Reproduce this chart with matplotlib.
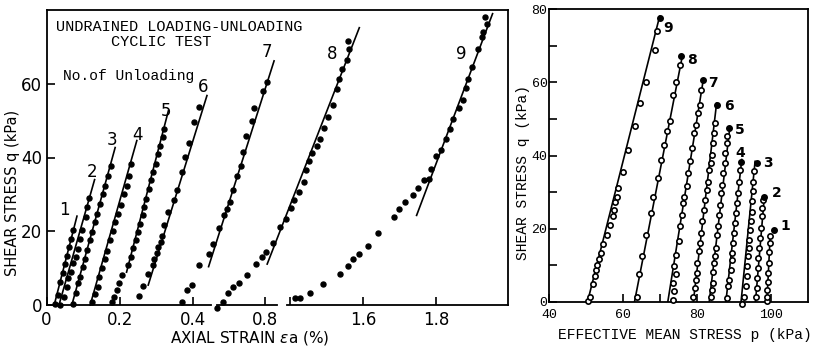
import matplotlib
matplotlib.use('Agg')
import matplotlib.pyplot as plt

# ---------------- data ----------------
# left panel: axial strain (%) vs shear stress q (kPa), one pair per unloading
strain_1 = [0.023, 0.031, 0.037, 0.044, 0.050, 0.055, 0.060, 0.066, 0.071]
stress_1 = [0.4, 2.8, 6.2, 8.6, 11.0, 13.4, 15.8, 18.0, 20.3]
strain_2 = [0.037, 0.048, 0.055, 0.059, 0.066, 0.073, 0.080, 0.085, 0.091, 0.098, 0.108, 0.111, 0.117]
stress_2 = [0.0, 2.2, 4.8, 7.2, 9.0, 11.3, 13.1, 15.3, 18.0, 20.3, 23.9, 26.6, 29.0]
strain_3 = [0.073, 0.080, 0.085, 0.091, 0.099, 0.105, 0.111, 0.119, 0.123, 0.132, 0.138, 0.146,
            0.153, 0.159, 0.168, 0.175]
stress_3 = [0.3, 3.2, 5.9, 7.6, 10.4, 12.6, 14.9, 17.6, 19.8, 22.5, 24.8, 27.5, 30.2, 32.4, 35.1, 37.8]
strain_4 = [0.123, 0.132, 0.139, 0.143, 0.150, 0.159, 0.166, 0.173, 0.180, 0.187, 0.196, 0.203,
            0.211, 0.219, 0.226, 0.229]
stress_4 = [0.9, 3.0, 4.9, 7.6, 9.9, 12.6, 14.7, 17.6, 20.1, 22.5, 24.8, 27.0, 30.2, 32.4, 34.9, 38.3]
strain_5 = [0.178, 0.184, 0.192, 0.198, 0.205, 0.222, 0.229, 0.236, 0.243, 0.249, 0.255, 0.262,
            0.265, 0.271, 0.278, 0.284, 0.291, 0.297, 0.304, 0.310, 0.316, 0.321]
stress_5 = [0.9, 2.2, 4.1, 5.9, 8.1, 10.8, 13.1, 15.4, 17.6, 19.8, 22.1, 24.3, 26.6, 28.8, 31.5,
            33.8, 36.0, 38.3, 41.0, 43.2, 45.5, 47.8]
strain_6 = [0.253, 0.262, 0.277, 0.289, 0.293, 0.300, 0.305, 0.311, 0.314, 0.320, 0.332, 0.346,
            0.355, 0.368, 0.376, 0.389, 0.402, 0.416]
stress_6 = [2.4, 5.1, 8.4, 10.8, 12.6, 14.0, 15.8, 17.1, 18.6, 21.6, 25.2, 28.4, 31.1, 36.0, 40.1,
            43.9, 49.5, 53.6]
strain_7 = [0.573, 0.587, 0.600, 0.621, 0.646, 0.659, 0.675, 0.688, 0.696, 0.705, 0.714, 0.723,
            0.735, 0.741, 0.748, 0.764, 0.770, 0.794, 0.806]
stress_7 = [0.9, 4.1, 5.4, 10.8, 13.8, 16.5, 21.0, 24.3, 25.9, 27.9, 31.1, 35.1, 37.8, 41.4, 45.9,
            50.0, 53.4, 57.9, 60.4]
strain_8 = [1.201, 1.219, 1.233, 1.247, 1.262, 1.283, 1.308, 1.326, 1.337, 1.355, 1.373, 1.390,
            1.403, 1.412, 1.426, 1.439, 1.446, 1.452, 1.461, 1.474, 1.483, 1.495, 1.505, 1.517,
            1.530, 1.535, 1.542, 1.556, 1.563, 1.558]
stress_8 = [-0.8, 0.8, 3.2, 4.9, 5.9, 8.1, 11.0, 12.9, 14.4, 16.8, 21.1, 23.2, 26.2, 28.4, 30.6,
            33.3, 36.5, 39.0, 41.2, 43.2, 45.1, 48.0, 50.9, 54.3, 58.6, 61.3, 64.0, 66.4, 69.4, 71.6]
strain_9 = [1.415, 1.428, 1.456, 1.492, 1.537, 1.558, 1.572, 1.590, 1.614, 1.640, 1.684, 1.699,
            1.714, 1.737, 1.749, 1.766, 1.780, 1.784, 1.798, 1.812, 1.825, 1.837, 1.846, 1.862,
            1.872, 1.880, 1.885, 1.898, 1.914, 1.923, 1.928, 1.937, 1.932]
stress_9 = [1.8, 1.8, 3.2, 5.6, 8.4, 10.6, 12.4, 13.8, 16.0, 19.5, 23.9, 26.1, 27.8, 29.7, 31.7,
            34.0, 34.2, 36.9, 40.4, 41.9, 45.1, 47.8, 50.5, 53.4, 55.6, 58.8, 61.3, 64.6, 69.5,
            72.8, 73.9, 76.1, 78.1]

# fitted straight lines (start, end) for each unloading
fit_strain = [[0.021, 0.083], [0.034, 0.131], [0.069, 0.187], [0.119, 0.246], [0.218, 0.332],
              [0.277, 0.437], [0.646, 0.825], [1.339, 1.590], [1.746, 1.953]]
fit_stress = [[0, 24.1], [0, 34.0], [0, 42.7], [0, 44.6], [8.9, 52.7],
              [5.4, 56.8], [10.4, 66.2], [11.1, 75.2], [24.3, 79.0]]

# which piece of the broken strain axis each unloading is drawn on
segment_of_loop = [0, 0, 0, 0, 0, 0, 1, 2, 2]
label_strain = [0.050, 0.123, 0.178, 0.249, 0.325, 0.426, 0.806, 1.515, 1.869]
label_stress = [25.7, 36.0, 44.7, 46.2, 52.5, 59.0, 68.5, 68.0, 68.0]

# right panel: effective mean stress p vs q (kPa)
p_1 = [99.0, 99.0, 99.0, 99.3, 99.3, 99.5, 99.5, 99.7, 99.7, 100.8]
q_1 = [0.2, 1.5, 3.4, 5.4, 7.9, 10.6, 13.6, 16.1, 17.9, 19.7]
p_2 = [96.0, 96.1, 96.3, 96.6, 96.6, 96.8, 97.0, 97.2, 97.5, 97.7, 97.9, 98.2]
q_2 = [1.5, 3.8, 6.6, 9.3, 12.0, 14.7, 17.5, 20.2, 23.4, 25.7, 27.9, 28.8]
p_3 = [92.1, 92.7, 93.2, 93.4, 93.6, 93.9, 94.1, 94.1, 94.3, 94.5, 94.8, 94.8, 95.0, 95.2, 95.5, 96.1]
q_3 = [-0.5, 1.5, 4.3, 7.0, 9.7, 12.5, 14.7, 17.0, 19.7, 22.0, 24.7, 27.5, 30.2, 32.9, 35.7, 37.9]
p_4 = [88.2, 88.5, 88.7, 89.1, 89.4, 89.5, 89.8, 90.1, 90.3, 90.5, 90.7, 91.0, 91.4, 91.6, 91.8]
q_4 = [1.1, 4.3, 6.1, 8.8, 11.6, 13.4, 16.1, 18.8, 21.7, 24.3, 27.0, 29.8, 32.9, 36.1, 38.1]
p_5 = [83.7, 84.0, 84.2, 84.4, 84.6, 84.9, 85.1, 85.5, 85.8, 85.9, 86.2, 86.5, 86.8, 87.1, 87.6,
       87.7, 88.0, 88.2, 88.7]
q_5 = [1.5, 3.4, 5.2, 8.1, 10.6, 12.5, 14.7, 18.4, 20.7, 23.8, 26.6, 29.8, 32.0, 35.2, 37.9, 40.7,
       43.4, 45.2, 47.5]
p_6 = [78.8, 79.5, 79.6, 79.9, 80.1, 80.5, 80.8, 81.1, 81.4, 81.9, 82.2, 82.6, 83.1, 83.3, 83.7,
       84.0, 84.2, 84.6, 84.9, 85.3]
q_6 = [1.5, 3.8, 6.1, 7.9, 10.6, 13.8, 16.1, 18.8, 22.0, 25.2, 27.9, 30.7, 32.9, 36.1, 37.9, 40.2,
       43.4, 46.1, 48.9, 53.9]
p_7 = [73.6, 73.9, 73.6, 74.2, 73.9, 74.3, 75.0, 75.4, 76.0, 76.3, 76.6, 77.2, 77.7, 78.1, 78.7,
       79.2, 79.7, 80.4, 80.8, 81.2, 81.5]
q_7 = [0.6, 2.9, 5.2, 7.7, 9.7, 12.9, 16.6, 20.7, 23.8, 27.0, 28.8, 31.6, 35.2, 38.4, 42.0, 46.1,
       48.4, 51.6, 53.9, 58.0, 60.5]
p_8 = [63.7, 64.4, 65.2, 66.2, 67.5, 68.2, 69.4, 70.3, 71.1, 72.0, 72.7, 73.6, 74.3, 75.4, 75.6]
q_8 = [1.5, 7.7, 12.5, 18.4, 24.3, 28.7, 33.8, 38.9, 42.9, 46.6, 49.3, 56.6, 60.2, 64.8, 67.1]
p_9 = [50.6, 51.1, 51.8, 52.3, 52.7, 53.1, 53.5, 54.1, 54.7, 55.6, 56.5, 57.2, 57.6, 57.8, 58.3,
       58.7, 59.9, 61.4, 63.2, 64.6, 66.2, 68.6, 69.1, 70.0]
q_9 = [0.2, 1.5, 4.8, 7.0, 8.8, 10.2, 11.7, 13.4, 15.7, 18.4, 21.1, 23.6, 25.2, 27.2, 28.8, 31.1,
       35.4, 41.6, 48.0, 54.3, 60.2, 68.9, 73.9, 77.5]

fit_p = [[98.9, 99.8], [95.8, 98.2], [91.9, 95.7], [87.8, 92.1], [83.3, 88.9],
         [79.0, 85.3], [72.1, 81.7], [63.1, 76.1], [50.4, 69.9]]
fit_q = [[0, 18.5], [0, 28.8], [0, 38.4], [0, 38.9], [0, 47.9],
         [0, 54.3], [0, 60.7], [0, 67.5], [0, 78.0]]
label_p = [104.0, 101.5, 99.3, 91.7, 91.6, 88.5, 84.4, 78.6, 72.3]
label_q = [20.8, 29.8, 38.0, 40.6, 47.0, 53.4, 59.8, 66.2, 74.8]

strain_loops = [(strain_1, stress_1), (strain_2, stress_2), (strain_3, stress_3),
                (strain_4, stress_4), (strain_5, stress_5), (strain_6, stress_6),
                (strain_7, stress_7), (strain_8, stress_8), (strain_9, stress_9)]
p_loops = [(p_1, q_1), (p_2, q_2), (p_3, q_3), (p_4, q_4), (p_5, q_5),
           (p_6, q_6), (p_7, q_7), (p_8, q_8), (p_9, q_9)]

# ---------------- figure ----------------
W, H = 823, 354
fig = plt.figure(figsize=(W / 100, H / 100), dpi=100)
mono = 'Liberation Mono'


def rect(x0, y0, x1, y1):
    # pixel box -> figure fraction
    return [x0 / W, 1 - y1 / H, (x1 - x0) / W, (y1 - y0) / H]


# frame of the left panel (top and right border are continuous)
frame = fig.add_axes(rect(46.5, 10, 508, 305))
frame.set_xticks([])
frame.set_yticks([])
frame.spines['bottom'].set_visible(False)
frame.spines['left'].set_visible(False)
frame.patch.set_alpha(0)
for s in frame.spines.values():
    s.set_linewidth(1.3)

# three pieces of the broken strain axis
seg_boxes = [(46.5, 211), (217, 277), (287, 508)]
seg_lims = [(0, 0.448), (0.669, 0.833), (1.393, 1.995)]
seg_ticks = [[0, 0.2, 0.4], [0.8], [1.6, 1.8]]
seg_labels = [['0', '0.2', '0.4'], ['0.8'], ['1.6', '1.8']]
segs = []
for (x0, x1), lim, tk, tl in zip(seg_boxes, seg_lims, seg_ticks, seg_labels):
    ax = fig.add_axes(rect(x0, 10, x1, 305))
    ax.patch.set_alpha(0)
    ax.set_xlim(lim)
    ax.set_ylim(0, 80)
    ax.set_xticks(tk)
    ax.set_xticklabels(tl, fontsize=12)
    ax.tick_params(axis='x', direction='in', length=6, width=1.2, pad=4)
    for side in ['top', 'right', 'left']:
        ax.spines[side].set_visible(False)
    ax.spines['bottom'].set_linewidth(1.3)
    ax.set_yticks([])
    segs.append(ax)

segs[0].spines['left'].set_visible(True)
segs[0].spines['left'].set_linewidth(1.3)
segs[0].set_yticks([0, 20, 40, 60])
segs[0].set_yticklabels(['0', '20', '40', '60'], fontsize=12)
segs[0].tick_params(axis='y', direction='in', length=6, width=1.2, pad=3)
segs[2].set_xticks([1.4], minor=True)
segs[2].tick_params(axis='x', which='minor', direction='in', length=6, width=1.2)

for i in range(9):
    ax = segs[segment_of_loop[i]]
    e, q = strain_loops[i]
    ax.plot(e, q, 'o', color='black', markersize=3.6, clip_on=False, zorder=3)
    ax.plot(fit_strain[i], fit_stress[i], color='black', linewidth=1.2, clip_on=False)
    ax.text(label_strain[i], label_stress[i], str(i + 1), fontsize=12,
            ha='center', va='center')

fig.text(179 / W, 1 - 27 / H, 'UNDRAINED LOADING-UNLOADING', family=mono, fontsize=11,
         ha='center', va='center')
fig.text(161 / W, 1 - 42 / H, 'CYCLIC TEST', family=mono, fontsize=11,
         ha='center', va='center')
fig.text(63 / W, 1 - 76 / H, 'No.of Unloading', family=mono, fontsize=10.5,
         ha='left', va='center')
fig.text(13 / W, 1 - 193 / H, 'SHEAR STRESS q (kPa)', fontsize=10.5, rotation=90,
         ha='center', va='center')
fig.text(250 / W, 1 - 338 / H, r'AXIAL STRAIN $\varepsilon$a (%)', fontsize=11,
         ha='center', va='center')

# ---------------- right panel: stress path ----------------
axr = fig.add_axes(rect(549, 9, 808, 302))
axr.set_xlim(40, 110)
axr.set_ylim(0, 80)
axr.set_xticks([40, 60, 80, 100])
axr.set_xticks([70], minor=True)
axr.set_yticks([0, 20, 40, 60, 80])
axr.set_yticks([10, 30, 50, 70], minor=True)
axr.tick_params(which='both', direction='in', length=6, width=1.2)
axr.tick_params(axis='y', pad=1)
axr.tick_params(axis='x', pad=5)
for lab in axr.get_xticklabels() + axr.get_yticklabels():
    lab.set_family(mono)
    lab.set_fontsize(9.5)
for s in axr.spines.values():
    s.set_linewidth(1.3)

for i in range(9):
    p, q = p_loops[i]
    axr.plot(p[:-1], q[:-1], 'o', markerfacecolor='white', markeredgecolor='black',
             markeredgewidth=1.2, markersize=3.8, clip_on=False, zorder=3)
    axr.plot(p[-1:], q[-1:], 'o', color='black', markersize=4, clip_on=False, zorder=3)
    axr.plot(fit_p[i], fit_q[i], color='black', linewidth=1.2)
    axr.text(label_p[i], label_q[i], str(i + 1), fontsize=10, fontweight='bold',
             ha='center', va='center')

fig.text(523 / W, 1 - 172 / H, 'SHEAR STRESS q (kPa)', family=mono, fontsize=10.5,
         rotation=90, ha='center', va='center')
fig.text(685 / W, 1 - 335 / H, 'EFFECTIVE MEAN STRESS p (kPa)', family=mono, fontsize=10.5,
         ha='center', va='center')

plt.savefig('out.png', dpi=100)
